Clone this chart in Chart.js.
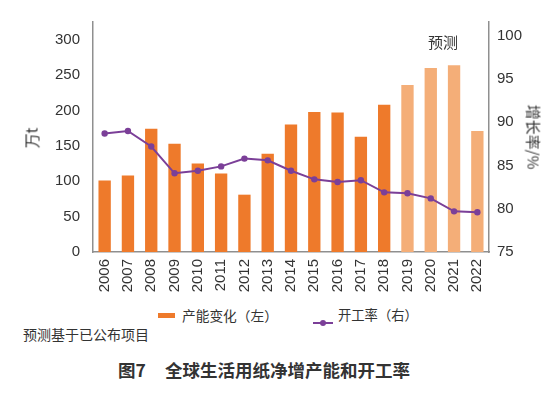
<!DOCTYPE html>
<html>
<head>
<meta charset="utf-8">
<script src="https://cdn.jsdelivr.net/npm/chart.js@4"></script>
<style>
  body { margin: 0; background: #fff; }
  #wrap { position: relative; width: 560px; height: 396px; font-family: "Liberation Sans", "Noto Sans CJK SC", sans-serif; color: #333; }
  #chart { position: absolute; left: 0; top: 0; }
  .txt { position: absolute; white-space: nowrap; font-family: "Noto Sans CJK SC", sans-serif; }
  .rot-l { transform: translate(-50%, -50%) rotate(-90deg); }
  .rot-r { transform: translate(-50%, -50%) rotate(90deg); }
</style>
</head>
<body>
<div id="wrap">
  <canvas id="chart" width="560" height="300"></canvas>
  <div class="txt rot-l" style="left:31px; top:138px; font-size:15px;">万t</div>
  <div class="txt rot-r" style="left:534px; top:137px; font-size:15px;">增长率/%</div>
  <div class="txt" style="left:428px; top:31px; font-size:15px;">预测</div>
  <div class="txt" style="left:158px; top:313px; width:17px; height:5px; background:#ee7a2b;"></div>
  <div class="txt" style="left:182px; top:305px; font-size:13.7px;">产能变化（左）</div>
  <div class="txt" style="left:313px; top:322px; width:20px; height:2px; background:#7b3f98;"></div>
  <div class="txt" style="left:320px; top:320px; width:6px; height:6px; border-radius:3px; background:#7b3f98;"></div>
  <div class="txt" style="left:338px; top:305px; font-size:13.3px;">开工率（右）</div>
  <div class="txt" style="left:23px; top:324px; font-size:14px;">预测基于已公布项目</div>
  <div class="txt" style="left:118px; top:357px; font-size:17.5px; font-weight:bold;">图7</div>
  <div class="txt" style="left:165px; top:357px; font-size:17.5px; font-weight:bold;">全球生活用纸净增产能和开工率</div>
</div>
<script>
const years = ["2006", "2007", "2008", "2009", "2010", "2011", "2012", "2013", "2014",
  "2015", "2016", "2017", "2018", "2019", "2020", "2021", "2022"];
const capacityChange = [101, 108, 174, 153, 125, 111, 81, 139, 180, 198, 197, 163, 208, 236, 260, 264, 171];
const operatingRate = [88.7, 89.0, 87.2, 84.1, 84.4, 84.9, 85.8, 85.6, 84.4, 83.4, 83.1, 83.3, 81.9, 81.8, 81.2, 79.7, 79.6];
const forecastFrom = "2019";
const leftTicks = [0, 50, 100, 150, 200, 250, 300];
const rightTicks = [75, 80, 85, 90, 95, 100];

const barColor = "#ee7a2b";
const forecastColor = "#f4ae78";
const lineColor = "#7b3f98";
const axisColor = "#8f8f8f";
const tickFont = { family: "Liberation Sans", size: 15 };

const firstForecast = years.indexOf(forecastFrom);

new Chart(document.getElementById("chart"), {
  data: {
    labels: years,
    datasets: [
      {
        type: "line",
        label: "开工率(右)",
        data: operatingRate,
        yAxisID: "yRight",
        borderColor: lineColor,
        backgroundColor: lineColor,
        borderWidth: 2,
        pointRadius: 3.2,
        pointBackgroundColor: lineColor,
        pointBorderWidth: 0,
        tension: 0,
        order: 0,
      },
      {
        type: "bar",
        label: "产能变化(左)",
        data: capacityChange,
        yAxisID: "yLeft",
        backgroundColor: years.map((y, i) => (i >= firstForecast ? forecastColor : barColor)),
        barPercentage: 0.53,
        categoryPercentage: 1,
        order: 1,
      },
    ],
  },
  options: {
    responsive: false,
    animation: false,
    layout: { padding: { top: 22, left: 0, right: 0, bottom: 0 } },
    plugins: { legend: { display: false }, tooltip: { enabled: false } },
    scales: {
      x: {
        grid: { display: false, drawTicks: false },
        border: { color: axisColor, width: 1.5 },
        ticks: { font: tickFont, color: "#333", minRotation: 90, maxRotation: 90, padding: 7 },
        afterFit: (scale) => { scale.height = 48; },
      },
      yLeft: {
        position: "left",
        min: 0,
        max: 325,
        grid: { display: false, drawTicks: false },
        border: { color: axisColor, width: 1.5 },
        ticks: { font: tickFont, color: "#333", padding: 13 },
        afterBuildTicks: (scale) => { scale.ticks = leftTicks.map((v) => ({ value: v })); },
        afterFit: (scale) => { scale.width = 93; },
      },
      yRight: {
        position: "right",
        min: 75,
        max: 101.6,
        grid: { display: false, drawTicks: false },
        border: { color: axisColor, width: 1.5 },
        ticks: { font: tickFont, color: "#333", padding: 8 },
        afterBuildTicks: (scale) => { scale.ticks = rightTicks.map((v) => ({ value: v })); },
        afterFit: (scale) => { scale.width = 71; },
      },
    },
  },
});
</script>
</body>
</html>
